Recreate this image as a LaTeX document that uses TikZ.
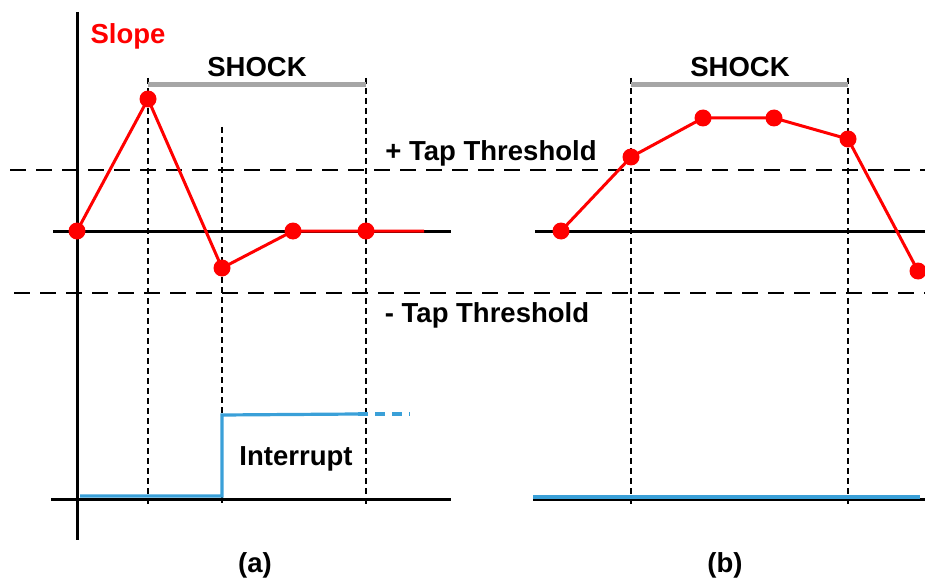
\documentclass[tikz,border=0pt]{standalone}
\usepackage{fontspec}
\setmainfont{Liberation Sans}
\definecolor{sigblue}{RGB}{58,160,216}
\begin{document}
\begin{tikzpicture}[x=1pt,y=-1pt,
  axis/.style={line width=3pt,black},
  thr/.style={line width=1.8pt,black,dash pattern=on 16pt off 10pt},
  vdash/.style={line width=1.6pt,black,dash pattern=on 6pt off 4pt},
  bar/.style={line width=5pt,gray!70},
  slope/.style={line width=3pt,red},
  dot/.style={circle,fill=red,inner sep=0pt,minimum size=17pt},
  sig/.style={line width=3.2pt,sigblue},
  lbl/.style={font=\bfseries\fontsize{27.5}{30}\selectfont,inner sep=0pt}]
\useasboundingbox (0,0) rectangle (925,580);
% thresholds
\coordinate (tp1) at (10,170); \coordinate (tp2) at (925,170);
\coordinate (tm1) at (14,293); \coordinate (tm2) at (925,293);
\draw[thr] (tp1) -- (tp2);
\draw[thr] (tm1) -- (tm2);
\node[lbl] (tpl) at (491,153) {+ Tap Threshold};
\node[lbl] (tml) at (487,315) {- Tap Threshold};
% left axes
\coordinate (ya1) at (77,12); \coordinate (ya2) at (77,540);
\draw[axis] (ya1) -- (ya2);
\coordinate (za1) at (53,231); \coordinate (za2) at (451,231);
\draw[axis] (za1) -- (za2);
\coordinate (ba1) at (51,499); \coordinate (ba2) at (451,499);
\draw[axis] (ba1) -- (ba2);
\node[lbl,red] (slopelbl) at (128,36) {Slope};
% left verticals
\coordinate (v1t) at (148,78); \coordinate (v1b) at (148,506);
\coordinate (v2t) at (222,127); \coordinate (v2b) at (222,506);
\coordinate (v3t) at (366,78); \coordinate (v3b) at (366,506);
\draw[vdash] (v1t) -- (v1b);
\draw[vdash] (v2t) -- (v2b);
\draw[vdash] (v3t) -- (v3b);
\coordinate (g1a) at (148,85); \coordinate (g1b) at (366,85);
\draw[bar] (g1a) -- (g1b);
\node[lbl] (shockA) at (257,67) {SHOCK};
% left slope
\node[dot] (a1) at (77,231) {};
\node[dot] (a2) at (148,99) {};
\node[dot] (a3) at (222,268) {};
\node[dot] (a4) at (293,231) {};
\node[dot] (a5) at (366,231) {};
\coordinate (aend) at (424,231);
\draw[slope] (a1.center) -- (a2.center) -- (a3.center) -- (a4.center) -- (a5.center) -- (aend);
% interrupt
\coordinate (i0) at (80,496); \coordinate (i1) at (222,496);
\coordinate (i2) at (222,415); \coordinate (i3) at (358,414);
\coordinate (i4) at (410,414);
\draw[sig] (i0) -- (i1) -- (i2) -- (i3);
\draw[sig,dash pattern=on 10pt off 7pt] (i3) -- (i4);
\node[lbl] (intl) at (296,459) {Interrupt};
\node[lbl] (capa) at (255,565) {(a)};
% right panel
\coordinate (zb1) at (535,231); \coordinate (zb2) at (925,231);
\draw[axis] (zb1) -- (zb2);
\coordinate (bb1) at (533,499); \coordinate (bb2) at (925,499);
\draw[axis] (bb1) -- (bb2);
\coordinate (w1t) at (631,78); \coordinate (w1b) at (631,506);
\coordinate (w2t) at (848,78); \coordinate (w2b) at (848,506);
\draw[vdash] (w1t) -- (w1b);
\draw[vdash] (w2t) -- (w2b);
\coordinate (g2a) at (631,85); \coordinate (g2b) at (848,85);
\draw[bar] (g2a) -- (g2b);
\node[lbl] (shockB) at (740,67) {SHOCK};
\node[dot] (b1) at (561,231) {};
\node[dot] (b2) at (631,157) {};
\node[dot] (b3) at (703,118) {};
\node[dot] (b4) at (774,118) {};
\node[dot] (b5) at (848,139) {};
\node[dot] (b6) at (918,271) {};
\draw[slope] (b1.center) -- (b2.center) -- (b3.center) -- (b4.center) -- (b5.center) -- (b6.center);
\coordinate (j0) at (533,497); \coordinate (j1) at (920,497);
\draw[sig] (j0) -- (j1);
\node[lbl] (capb) at (725,565) {(b)};
\end{tikzpicture}
\end{document}
